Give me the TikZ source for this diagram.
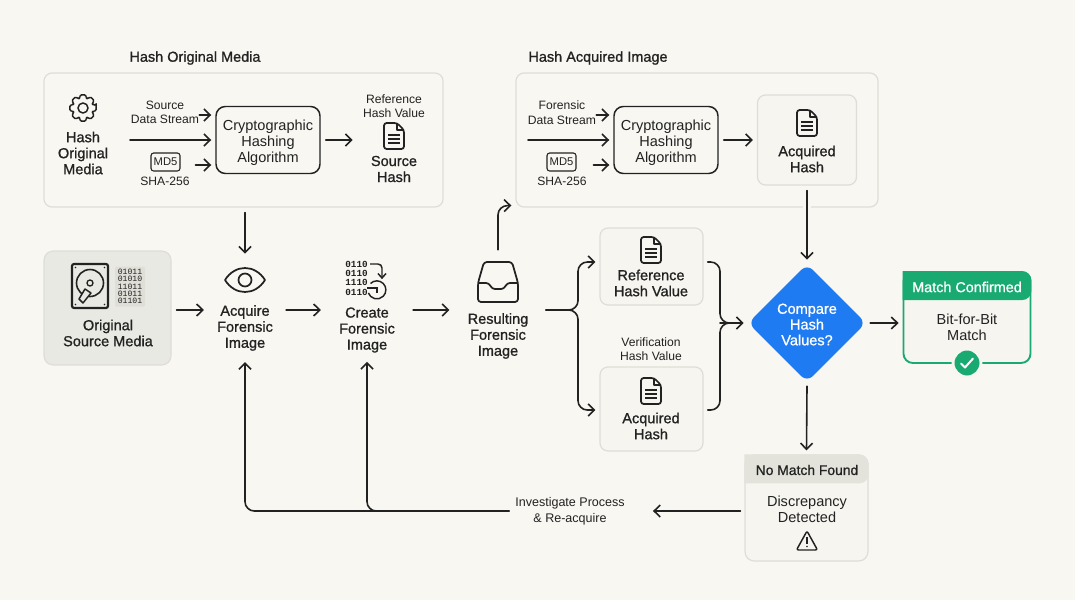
\documentclass[tikz,border=0pt]{standalone}
\usepackage{fontspec}
\setmainfont{Liberation Sans}
\newfontfamily\medfont[FakeBold=1.0]{Liberation Sans}
\newfontfamily\binfont{Liberation Mono}
\usetikzlibrary{arrows.meta,shapes.geometric,calc}
\definecolor{bgc}{HTML}{F8F7F2}
\definecolor{inkc}{HTML}{222222}
\definecolor{panelc}{HTML}{DEDDD6}
\definecolor{softc}{HTML}{F6F5F0}
\definecolor{srcc}{HTML}{E9E9E3}
\definecolor{binc}{HTML}{DFDED7}
\definecolor{greenc}{HTML}{19AA72}
\definecolor{bluec}{HTML}{1F7BF2}
\definecolor{hdrc}{HTML}{E3E2DB}
\def\p{0.75pt}
\tikzset{
  x=0.75pt,y=-0.75pt,
  lin/.style={draw=inkc,line width=1.2pt,line cap=round},
  arr/.style={lin,-{Straight Barb[length=4.6pt,width=9pt,line width=1.2pt]}},
  rnd/.style={rounded corners=7pt},
  tx/.style={text=inkc,align=center,inner sep=0pt,font=\fontsize{10.9}{12}\selectfont},
  smalltx/.style={text=inkc,align=center,inner sep=0pt,font=\fontsize{9.1}{10.8}\selectfont},
  medtx/.style={text=inkc,align=center,inner sep=0pt,font=\medfont\fontsize{10.9}{12}\selectfont},
  titletx/.style={text=inkc,align=center,inner sep=0pt,font=\medfont\fontsize{10.85}{12}\selectfont},
  panel/.style={draw=panelc,line width=0.9pt,rounded corners=6pt,inner sep=0pt},
  softbox/.style={draw=panelc,fill=softc,line width=0.9pt,rounded corners=6pt,inner sep=0pt},
  algobox/.style={draw=inkc,line width=1.1pt,rounded corners=7pt,inner sep=0pt,
    minimum width=104*\p,minimum height=67*\p},
  tagbox/.style={draw=inkc,line width=0.8pt,rounded corners=2pt,text=inkc,inner sep=0pt,
    minimum width=29*\p,minimum height=18*\p,font=\fontsize{8.4}{10}\selectfont},
  slot/.style={inner sep=0pt},
  docicon/.pic={
    \draw[draw=inkc,line width=1.3pt,line join=round,rounded corners=2pt]
      (-10,-13) -- (3,-13) -- (10,-6) -- (10,13) -- (-10,13) -- cycle;
    \draw[draw=inkc,line width=0.9pt,line join=round] (3,-13) -- (3,-6) -- (10,-6);
    \draw[draw=inkc,line width=1pt] (-6,-1) -- (6,-1) (-6,3) -- (6,3) (-6,7) -- (6,7);
  },
  gearicon/.pic={
    \draw[draw=inkc,line width=1.1pt,line join=round,rounded corners=1pt]
      (-12:13.5) \foreach \a in {0,45,...,315}{ -- ({\a-12}:13.5) -- ({\a+12}:13.5) -- ({\a+18}:10.3) -- ({\a+27}:10.3)} -- cycle;
    \draw[draw=inkc,line width=1.1pt] (0,0) circle (5);
  },
}
\begin{document}
\begin{tikzpicture}
\useasboundingbox (0,0) rectangle (1075,600);
\fill[bgc] (0,0) rectangle (1075,600);

% panels
\node[panel,minimum width=399*\p,minimum height=134*\p] (p1) at (243.5,140) {};
\node[panel,minimum width=362*\p,minimum height=134*\p] (p2) at (697,140) {};
\node[titletx] (t1) at (195,58) {Hash Original Media};
\node[titletx] (t2) at (598,58) {Hash Acquired Image};

% panel 1 content
\pic at (83,108) {gearicon};
\node[medtx] (hom) at (83,153) {Hash\\Original\\Media};
\node[smalltx] (srcs) at (165,112.5) {Source\\Data Stream};
\node[tagbox] (md1) at (165.5,162) {MD5};
\node[smalltx] (sha1) at (165,181) {SHA-256};
\node[algobox] (alg1) at (268,140) {};
\node[tx] (alg1t) at (268,143) {Cryptographic\\Hashing\\Algorithm};
\node[smalltx] (refl) at (394,106) {Reference\\Hash Value};
\pic at (394,136) {docicon};
\node[medtx,minimum width=40*\p] (srch) at (394,169) {Source\\Hash};

% panel 2 content
\node[smalltx] (fors) at (562,112.5) {Forensic\\Data Stream};
\node[tagbox] (md2) at (561.5,162) {MD5};
\node[smalltx] (sha2) at (562,181) {SHA-256};
\node[algobox] (alg2) at (666,140) {};
\node[tx] (alg2t) at (666,143) {Cryptographic\\Hashing\\Algorithm};
\node[softbox,minimum width=99*\p,minimum height=90*\p] (acqb) at (807,140) {};
\pic at (807,123) {docicon};
\node[medtx] (acqt) at (807,159) {Acquired\\Hash};

% source media
\node[draw=panelc,fill=srcc,line width=0.9pt,rounded corners=7pt,inner sep=0pt,minimum width=127*\p,minimum height=114*\p] (src) at (107.5,308) {};
\draw[draw=inkc,line width=1.6pt,rounded corners=1.5pt] (72,264) rectangle (108,308);
\draw[draw=inkc,line width=1.2pt] (90,283) circle (13.5);
\draw[draw=inkc,line width=1pt] (90,283) circle (3);
\draw[draw=inkc,fill=srcc,line width=1.1pt,line join=round] (85,289) -- (79,299) -- (83,303) -- (91,293) -- cycle;
\fill[inkc] (75.5,267.5) circle (0.9) (104.5,267.5) circle (0.9) (75.5,304.5) circle (0.9) (104.5,304.5) circle (0.9);
\node[fill=binc,rounded corners=1pt,text=inkc,align=center,inner sep=0pt,minimum width=30*\p,minimum height=40*\p,font=\binfont\fontsize{6.1}{5.5}\selectfont] (bin1) at (130,286.5) {01011\\01010\\11011\\01011\\01101};
\node[medtx] (srct) at (108,333) {Original\\Source Media};

% acquire
\node[slot,minimum width=40*\p,minimum height=24*\p] (eye) at (245,280) {};
\draw[draw=inkc,line width=1.3pt,line join=round] (225,280) .. controls (235,264) and (255,264) .. (265,280) .. controls (255,296) and (235,296) .. (225,280) -- cycle;
\draw[draw=inkc,line width=1.3pt] (245,280) circle (6.5);
\node[medtx] (acq) at (245,328) {Acquire\\Forensic\\Image};

% create
\node[slot,minimum width=39*\p,minimum height=40*\p] (binb) at (366,280) {};
\node[text=inkc,align=right,inner sep=0pt,anchor=east,font=\binfont\bfseries\fontsize{7}{7}\selectfont] (bin2) at (368,278) {0110\\0110\\1110\\0110};
\draw[draw=inkc,line width=1.1pt,rounded corners=3pt] (370,264) -- (382,264) -- (382,277);
\draw[draw=inkc,line width=1.1pt] (378,273.5) -- (382,278) -- (386,273.5);
\draw[draw=inkc,line width=1.1pt] (370.5,283.5) arc (-135:160:9);
\draw[draw=inkc,line width=1.1pt] (367,288) -- (378,288) (377,288) -- (377,293);
\node[medtx] (crt) at (367,330) {Create\\Forensic\\Image};

% resulting
\node[slot,minimum width=40*\p,minimum height=40*\p] (inb) at (498,282) {};
\draw[draw=inkc,line width=1.3pt,line join=round,rounded corners=2.2pt] (484,262) -- (512,262) -- (518,283) -- (518,302) -- (478,302) -- (478,283) -- cycle;
\draw[draw=inkc,line width=1.3pt,line join=round,rounded corners=2.2pt] (478,283) -- (489,283) -- (492,289) -- (504,289) -- (507,283) -- (518,283);
\node[medtx] (res) at (498,336) {Resulting\\Forensic\\Image};

% hash value boxes
\node[softbox,minimum width=103*\p,minimum height=77*\p] (refb) at (651.5,266.5) {};
\pic at (651,250) {docicon};
\node[medtx] (reft) at (651,283) {Reference\\Hash Value};
\node[smalltx] (verl) at (651,349) {Verification\\Hash Value};
\node[softbox,minimum width=103*\p,minimum height=84*\p] (acb2) at (651.5,409) {};
\pic at (651,391) {docicon};
\node[medtx] (act2) at (651,426) {Acquired\\Hash};

% decision
\node[diamond,aspect=1,fill=bluec,rounded corners=6pt,inner sep=0pt,minimum width=118*\p,minimum height=118*\p] (dec) at (807,323) {};
\node[text=white,align=center,inner sep=0pt,font=\medfont\fontsize{10.9}{11.8}\selectfont] (dect) at (807,324.5) {Compare\\Hash\\Values?};

% match confirmed
\node[draw=greenc,fill=softc,line width=1.4pt,rounded corners=7pt,inner sep=0pt,minimum width=127*\p,minimum height=91*\p] (mbox) at (967,317.5) {};
\fill[greenc,rounded corners=7pt] (mbox.north west) -- (mbox.north east) -- ($(mbox.north east)+(0,29)$) [sharp corners] -- ($(mbox.north west)+(0,29)$) -- cycle;
\node[text=white,inner sep=0pt,font=\medfont\fontsize{10.8}{12}\selectfont] (mhead) at (967,287) {Match Confirmed};
\node[tx] (mtxt) at (967,327) {Bit-for-Bit\\Match};
\node[circle,fill=greenc,draw=softc,line width=2.2pt,minimum size=28*\p,inner sep=0pt] (mchk) at (967,363) {};
\draw[white,line width=1.5pt,line cap=round,line join=round] (961,363.5) -- (965,367.5) -- (973,358.5);

% no match
\node[draw=panelc,fill=softc,line width=0.9pt,rounded corners=7pt,inner sep=0pt,minimum width=123*\p,minimum height=106*\p] (nbox) at (806.5,508) {};
\fill[hdrc,rounded corners=7pt] (nbox.north west) -- (nbox.north east) -- ($(nbox.north east)+(0,29)$) [sharp corners] -- ($(nbox.north west)+(0,29)$) -- cycle;
\node[text=inkc,inner sep=0pt,font=\medfont\fontsize{10.4}{12}\selectfont] (nhead) at (807,470) {No Match Found};
\node[tx] (ntxt) at (807,509) {Discrepancy\\Detected};
\draw[draw=inkc,line width=1.1pt,line join=round,rounded corners=1.5pt] (807,531) -- (817.5,550) -- (796.5,550) -- cycle;
\draw[draw=inkc,line width=1.3pt] (807,537) -- (807,543.5);
\fill[inkc] (807,546.5) circle (0.9);

% investigate
\node[tx,font=\fontsize{9.4}{12}\selectfont] (inv) at (570,511) {Investigate Process\\\& Re-acquire};

% free ends
\coordinate (s1) at (130,140);
\coordinate (s2) at (528,140);
\coordinate (fkin) at (546,310);
\coordinate (fk) at (578,310);
\coordinate (mj) at (720,323);

% connectors panel 1
\draw[arr] ([shift={(0,2.5)}]srcs.east) -- ([shift={(-4,-25)}]alg1.west);
\draw[arr] (s1) -- ([xshift=-4*\p]alg1.west);
\draw[arr] ([shift={(15,3)}]md1.east) -- ([shift={(-4,25)}]alg1.west);
\draw[arr] ([xshift=5*\p]alg1.east) -- ($(alg1.east)+(32,0)$);
% connectors panel 2
\draw[arr] ([shift={(0,2.5)}]fors.east) -- ([shift={(-4,-25)}]alg2.west);
\draw[arr] (s2) -- ([xshift=-4*\p]alg2.west);
\draw[arr] ([shift={(17,3)}]md2.east) -- ([shift={(-4,25)}]alg2.west);
\draw[arr] ([xshift=5*\p]alg2.east) -- ([xshift=-4*\p]acqb.west);
% main flow
\draw[arr] ([shift={(1.5,5)}]p1.south) -- ([yshift=14*\p]eye.north);
\draw[arr] ([shift={(5,2)}]src.east) -- ([shift={(-13,-18)}]acq.west);
\draw[arr] ([shift={(13,-18)}]acq.east) -- ([shift={(-18,-20)}]crt.west);
\draw[arr] ([shift={(18,-20)}]crt.east) -- ([shift={(-18,-26)}]res.west);
\coordinate (upk) at (inb.north |- p2.south);
\draw[arr,rnd] ([yshift=12*\p]inb.north) -- ([shift={(0,-2)}]upk) -- ([shift={(-4,-2)}]p2.south west);
\draw[arr,rnd] (fkin) -- (fk) -- (fk |- 0,262) -- ([shift={(-4,-4.5)}]refb.west);
\draw[arr,rnd] (fkin) -- (fk) -- (fk |- 0,410) -- ([shift={(-4,1)}]acb2.west);
\draw[lin,rnd] ([shift={(4,-4.5)}]refb.east) -- (mj |- 0,262) -- (mj) -- ($(mj)+(14,0)$);
\draw[lin,rnd] ([shift={(4,1)}]acb2.east) -- (mj |- 0,410) -- (mj) -- ($(mj)+(14,0)$);
\draw[arr] (mj) -- ([xshift=-4*\p]dec.west);
\draw[arr] ([xshift=4*\p]dec.east) -- ([xshift=-4*\p]mbox.west |- dec.east);
\coordinate (gapc) at (acqb.south |- p2.south);
\draw[bgc,line width=8*\p] ([shift={(0,-3)}]gapc) -- ([shift={(0,3)}]gapc);
\draw[arr] ([yshift=-5*\p]acqb.south) -- ([yshift=4*\p]dec.north);
\draw[arr] ([yshift=-4*\p]dec.south) -- ([yshift=4*\p]nbox.north);
\draw[arr] ([xshift=-4*\p]nbox.west |- inv.east) -- ([xshift=28*\p]inv.east);
\coordinate (fba) at (inv.west -| acq.south);
\coordinate (fbc) at (inv.west -| crt.south);
\draw[arr,rnd] ([xshift=-6*\p]inv.west) -- (fba) -- ([yshift=-11*\p]acq.south);
\draw[arr,rnd] ([xshift=-6*\p]inv.west) -- (fbc) -- ([yshift=-9*\p]crt.south);
\end{tikzpicture}
\end{document}
